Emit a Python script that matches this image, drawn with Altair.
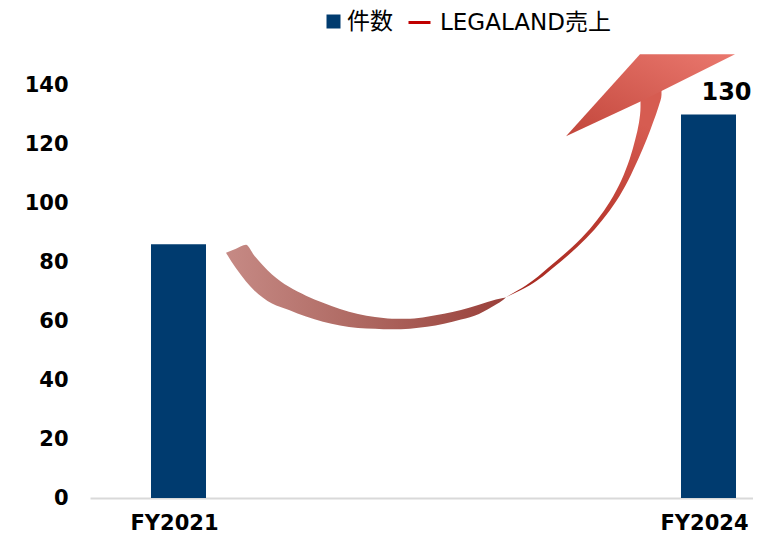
import altair as alt
import pandas as pd

# ---- chart data ----
categories = ["FY2021", "FY2024"]
counts = [86, 130]
count_labels = ["", "130"]
series_bar = "件数"
series_line = "LEGALAND売上"
y_ticks = [0, 20, 40, 60, 80, 100, 120, 140]

# ---- curved-arrow decoration, edges (picture pixels) ----
# left (descending) part of the ribbon: x, upper edge y, lower edge y
rib_left_x = [226, 236, 246, 254, 263, 272, 289, 306, 323, 340, 358, 375, 392, 410, 427,
              444, 461, 479, 496, 503, 506]
rib_left_up = [255, 251, 247, 257.5, 268.0, 277, 289.5, 298.5, 305.7, 312.0, 317, 320.2, 321.9,
               322, 319.9, 316.9, 313, 307.8, 302.5, 300.8, 300]
rib_left_lo = [255, 270.8, 284.1, 293, 300.5, 306.5, 313, 319.7, 325, 328.8, 331.2, 332, 332.6,
               331.9, 330, 327.0, 322.7, 317, 307.5, 303, 300]
# right (rising) part of the ribbon: y, inner edge x, outer edge x
rib_right_y = [300, 288, 270, 240, 203, 160, 140, 123, 107, 95, 88]
rib_right_in = [506, 526.2, 548.5, 581.5, 610, 629.7, 635.3, 639, 640.5, 640.5, 640.5]
rib_right_out = [506, 529.8, 553.5, 586.5, 616, 638.3, 646.7, 653, 658.5, 661.5, 661.5]
# arrow head: x, top edge y, bottom edge y
head_x = [566, 640, 660, 735]
head_top_y = [137, 54, 54, 54]
head_bot_y = [137, 102, 92, 54]

# picture pixel -> data units (x: 0 = FY2021, 1 = FY2024 ; y: chart value)
def to_u(px):
    return [(p - 178.5) / 530.0 for p in px]

def to_v(py):
    return [(503.5 - p) / 2.989 for p in py]

NAVY = "#003B6F"
RED = "#C00000"
LFONT = "DejaVu Sans, Noto Sans CJK JP"

bars_df = pd.DataFrame({"category": categories, "value": counts,
                        "label": count_labels, "series": [series_bar] * len(categories)})
left_df = pd.DataFrame({"u": to_u(rib_left_x), "up": to_v(rib_left_up), "lo": to_v(rib_left_lo)})
right_df = pd.DataFrame({"v": to_v(rib_right_y), "ui": to_u(rib_right_in), "uo": to_u(rib_right_out)})
head_df = pd.DataFrame({"u": to_u(head_x), "top": to_v(head_top_y), "bottom": to_v(head_bot_y)})

W, H = 663, 413
x_band = alt.Scale(type="band", domain=categories, paddingInner=0.896226,
                   paddingOuter=0.0735845, align=0.78205)
y_scale = alt.Scale(domain=[0, 140], nice=False, zero=True)
u_scale = alt.Scale(domain=[-0.16698, 1.08396], nice=False, zero=False)

y_axis = alt.Axis(title=None, values=y_ticks, labelFont="DejaVu Sans", labelFontWeight="bold",
                  labelFontSize=21, labelColor="#000000", labelPadding=22, ticks=False,
                  domain=False, grid=False)

bars = alt.Chart(bars_df).mark_bar().encode(
    x=alt.X("category:N", scale=x_band, sort=categories,
            axis=alt.Axis(title=None, labelAngle=0, labelFont="DejaVu Sans", labelFontWeight="bold",
                          labelFontSize=21, labelColor="#000000", labelPadding=14, labelOffset=-4,
                          ticks=False, domainColor="#d9d9d9", domainWidth=2, grid=False)),
    y=alt.Y("value:Q", scale=y_scale, axis=y_axis),
    color=alt.Color("series:N", scale=alt.Scale(domain=[series_bar], range=[NAVY]),
                    legend=alt.Legend(title=None, orient="none", legendX=232, legendY=-75,
                                      symbolType="square", symbolSize=196, labelFont=LFONT,
                                      labelFontSize=23, labelColor="#000000", labelOffset=2,
                                      labelLimit=400, padding=0, symbolStrokeWidth=0)),
)

rib_left = alt.Chart(left_df).mark_area(
    interpolate="monotone",
    color=alt.LinearGradient(
        gradient="linear", x1=0, y1=0, x2=1, y2=0,
        stops=[alt.GradientStop(color="#c68a85", offset=0),
               alt.GradientStop(color="#ad6760", offset=0.5),
               alt.GradientStop(color="#9a403a", offset=1)])
).encode(
    x=alt.X("u:Q", scale=u_scale, axis=None),
    y=alt.Y("up:Q", scale=y_scale, axis=y_axis),
    y2="lo:Q",
)

rib_right = alt.Chart(right_df).mark_area(
    interpolate="monotone", orient="horizontal",
    color=alt.LinearGradient(
        gradient="linear", x1=0, y1=1, x2=0.3, y2=0,
        stops=[alt.GradientStop(color="#a5281f", offset=0),
               alt.GradientStop(color="#bb3a30", offset=0.5),
               alt.GradientStop(color="#d65c51", offset=1)])
).encode(
    y=alt.Y("v:Q", scale=y_scale, axis=y_axis),
    x=alt.X("ui:Q", scale=u_scale, axis=None),
    x2="uo:Q",
)

head = alt.Chart(head_df).mark_area(
    color=alt.LinearGradient(
        gradient="linear", x1=0, y1=1, x2=1, y2=0,
        stops=[alt.GradientStop(color="#c2463b", offset=0),
               alt.GradientStop(color="#ea786e", offset=1)])
).encode(
    x=alt.X("u:Q", scale=u_scale, axis=None),
    y=alt.Y("top:Q", scale=y_scale, axis=y_axis),
    y2="bottom:Q",
)

labels = alt.Chart(bars_df).mark_text(
    font="DejaVu Sans", fontWeight="bold", fontSize=24, color="#000000",
    dx=18, dy=-15, baseline="alphabetic"
).encode(
    x=alt.X("category:N", scale=x_band, sort=categories, axis=None),
    y=alt.Y("value:Q", scale=y_scale, axis=y_axis),
    text="label:N",
)

line_legend = alt.Chart(bars_df).transform_filter("false").mark_line(strokeWidth=3).encode(
    x=alt.X("category:N", scale=x_band, sort=categories, axis=None),
    y=alt.Y("value:Q", scale=y_scale, axis=y_axis),
    stroke=alt.Stroke("series:N", scale=alt.Scale(domain=[series_line], range=[RED]),
                      legend=alt.Legend(title=None, orient="none", legendX=317, legendY=-75,
                                        symbolType="stroke", symbolSize=484, symbolStrokeWidth=3,
                                        labelFont=LFONT, labelFontSize=23, labelColor="#000000",
                                        labelOffset=8, labelLimit=400, padding=0)),
)

chart = alt.layer(bars, rib_left, rib_right, head, labels, line_legend).resolve_scale(
    x="independent"
).properties(
    width=W, height=H,
    autosize=alt.AutoSizeParams(type="none"),
    padding={"left": 82, "top": 77, "right": 0, "bottom": 38},
    background="#ffffff",
).configure_view(stroke=None)

chart.save("out.html", embed_options={"renderer": "svg", "actions": False})
